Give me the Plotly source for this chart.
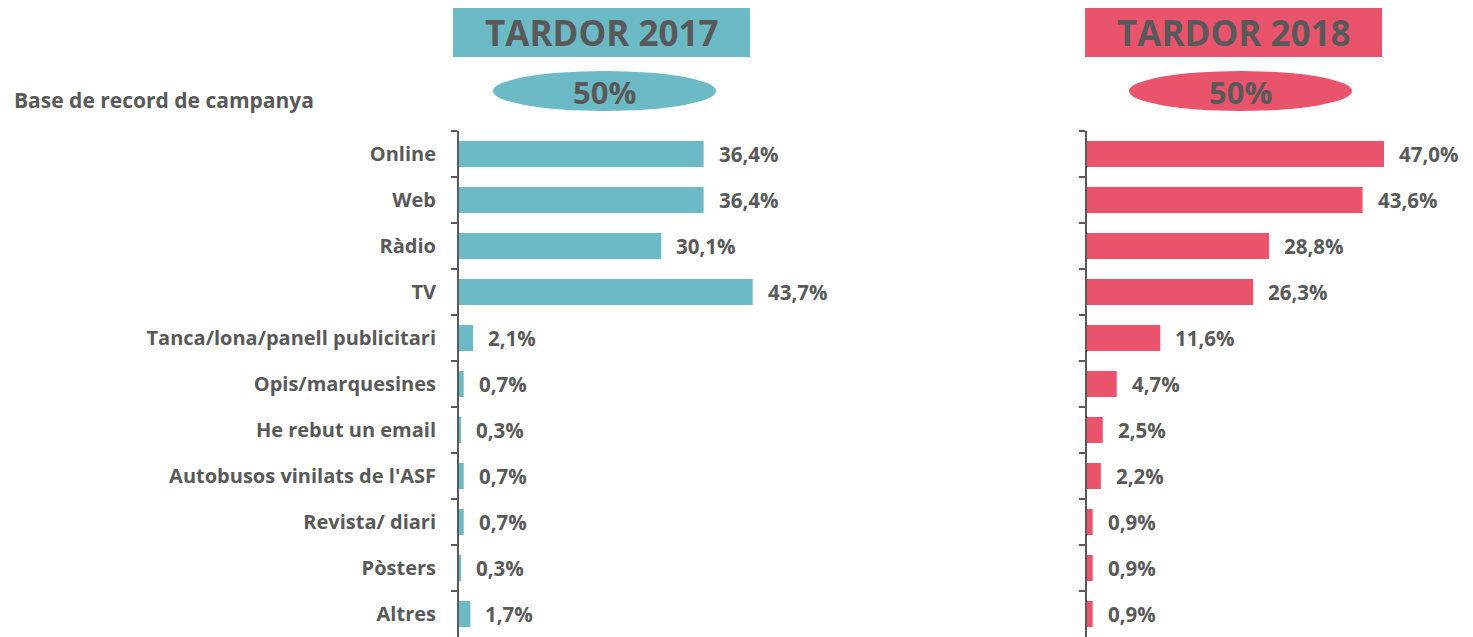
import plotly.graph_objects as go

OFF = 8  # page body margin in the browser
W, H = 1473 - OFF, 637 - OFF

categories = ["Online", "Web", "Ràdio", "TV", "Tanca/lona/panell publicitari",
              "Opis/marquesines", "He rebut un email", "Autobusos vinilats de l'ASF",
              "Revista/ diari", "Pòsters", "Altres"]
values_2017 = [36.4, 36.4, 30.1, 43.7, 2.1, 0.7, 0.3, 0.7, 0.7, 0.3, 1.7]
values_2018 = [47.0, 43.6, 28.8, 26.3, 11.6, 4.7, 2.5, 2.2, 0.9, 0.9, 0.9]
labels_2017 = ["36,4%", "36,4%", "30,1%", "43,7%", "2,1%", "0,7%", "0,3%", "0,7%", "0,7%", "0,3%", "1,7%"]
labels_2018 = ["47,0%", "43,6%", "28,8%", "26,3%", "11,6%", "4,7%", "2,5%", "2,2%", "0,9%", "0,9%", "0,9%"]
titles = ["TARDOR 2017", "TARDOR 2018"]
base_labels = ["50%", "50%"]
subtitle = "Base de record de campanya"

TEAL = "#6BBAC5"
RED = "#E9546C"
GREY = "#595959"
FONT = "Open Sans"


def px(x):
    return (x - OFF) / W


def py(y):
    return 1 - (y - OFF) / H


fig = go.Figure()
fig.add_trace(go.Bar(y=categories, x=values_2017, orientation="h", marker=dict(color=TEAL, line=dict(width=0)),
                     xaxis="x", yaxis="y", hoverinfo="skip"))
fig.add_trace(go.Bar(y=categories, x=values_2018, orientation="h", marker=dict(color=RED, line=dict(width=0)),
                     xaxis="x2", yaxis="y2", hoverinfo="skip"))

# domains (reference pixel coords) chosen so that px/unit matches reference
ax1_left, ax1_right = 459, 1000
ax2_left, ax2_right = 1087, 1473
scale1, scale2 = 6.72, 6.32
ydom = [0, py(131)]

annotations = []
for cat, v, t in zip(categories, values_2017, labels_2017):
    annotations.append(dict(x=v, y=cat, xref="x", yref="y", text=t, showarrow=False, xanchor="left",
                            xshift=13, font=dict(family=FONT, size=20.5, color=GREY, weight=700)))
for cat, v, t in zip(categories, values_2018, labels_2018):
    annotations.append(dict(x=v, y=cat, xref="x2", yref="y2", text=t, showarrow=False, xanchor="left",
                            xshift=13, font=dict(family=FONT, size=20.5, color=GREY, weight=700)))

shapes = []
boxes = [(453, 750, TEAL), (1085, 1382, RED)]
ells = [(493, 716, TEAL), (1129, 1352, RED)]
for (x0, x1, c), title in zip(boxes, titles):
    shapes.append(dict(type="rect", xref="paper", yref="paper", x0=px(x0), x1=px(x1), y0=py(57), y1=py(3),
                       fillcolor=c, line=dict(width=0), layer="below"))
    annotations.append(dict(x=px((x0 + x1) / 2), y=py(33), xref="paper", yref="paper", text=title,
                            showarrow=False, xanchor="center", yanchor="middle",
                            font=dict(family=FONT, size=35, color=GREY, weight=700)))
for (x0, x1, c), lab in zip(ells, base_labels):
    shapes.append(dict(type="circle", xref="paper", yref="paper", x0=px(x0), x1=px(x1), y0=py(111), y1=py(71),
                       fillcolor=c, line=dict(width=0), layer="below"))
    annotations.append(dict(x=px((x0 + x1) / 2), y=py(92), xref="paper", yref="paper", text=lab,
                            showarrow=False, xanchor="center", yanchor="middle",
                            font=dict(family=FONT, size=31, color=GREY, weight=700)))

annotations.append(dict(x=px(12), y=py(100), xref="paper", yref="paper", text=subtitle, showarrow=False,
                        xanchor="left", yanchor="middle", font=dict(family=FONT, size=21, color=GREY, weight=700)))

yaxis_common = dict(domain=ydom, type="category", categoryorder="array", categoryarray=categories,
                    autorange="reversed", showline=True, linecolor=GREY, linewidth=2,
                    ticks="outside", tickson="boundaries", ticklen=6, tickcolor=GREY, tickwidth=2,
                    showgrid=False, zeroline=False)

fig.update_layout(
    width=W, height=H, margin=dict(l=0, r=0, t=0, b=0),
    paper_bgcolor="white", plot_bgcolor="white", showlegend=False,
    bargap=0.435,
    xaxis=dict(domain=[px(ax1_left), px(ax1_right)], range=[0, (ax1_right - ax1_left) / scale1],
               visible=False, anchor="y"),
    xaxis2=dict(domain=[px(ax2_left), 1.0], range=[0, (ax2_right - ax2_left) / scale2],
                visible=False, anchor="y2"),
    yaxis=dict(**yaxis_common, anchor="x", ticklabelstandoff=17,
               tickfont=dict(family=FONT, size=20, color=GREY, weight=700)),
    yaxis2=dict(**yaxis_common, anchor="x2", showticklabels=False),
    annotations=annotations, shapes=shapes,
)

fig.write_html("out.html")
